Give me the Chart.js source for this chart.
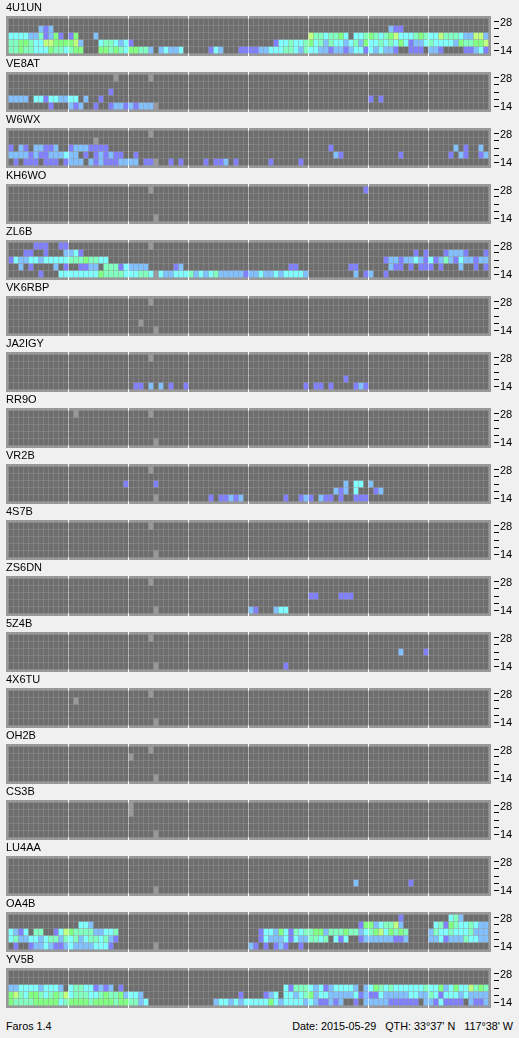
<!DOCTYPE html>
<html>
<head>
<meta charset="utf-8">
<script src="https://cdn.jsdelivr.net/npm/chart.js@4"></script>
<style>
html,body{margin:0;padding:0;background:#f0f0f0;width:519px;height:1038px;overflow:hidden}
canvas{position:absolute;left:0}
.foot{position:absolute;top:1020px;font:10.8px "Liberation Sans",sans-serif;color:#000;white-space:pre;line-height:13px}
</style>
</head>
<body>
<div class="foot" style="left:6px">Faros 1.4</div>
<div class="foot" style="right:6px">Date: 2015-05-29   QTH: 33°37' N   117°38' W</div>
<script>
// Each station: five rows (28 m at top ... 14 m at bottom), eight 12-slot groups of 15-minute cells.
// Digit = signal level (0 none, 1..6 rising), x = no data.
const E = "000000000000";
const bandTicks = ["14","","","","28"];
const levelColors = ["#6e6e6e","#8080ff","#80c0ff","#80ffff","#80ffc0","#80ff80","#c0ff80"];
const noDataColor = "#999999";
const GX0 = "0000x0000000", GX4 = "00000x000000";

const d4U1UN = [
 [E,E,E,E,E,E,E,E],
 ["000000212000",E,E,E,E,E,"000021100000",E],
 ["333322412510","150002000000",E,E,E,"644344530334","543456333454","336444322662"],
 ["445543366555","562000344323","100000000000",E,"000001334334","534243323425","334343531223","433332544556"],
 ["445443335443","455000554543","554420232230","000013200011","112233344324","332212212331","323221001110","221000011231"]];
const dVE8AT = [
 [E,"000000000x00",GX0,E,E,E,E,E],
 [E,E,E,E,E,E,E,E],
 [E,"000000001000",E,E,E,E,E,E],
 ["222203313322","330200100000",E,E,E,E,"101000000000",E],
 ["000000001000","212001001221","21222x000000",E,E,E,E,E]];
const dW6WX = [
 [E,E,GX0,E,E,E,E,E],
 [E,"00000x000000",E,E,E,E,E,E],
 ["102102211200","122211110000",E,E,E,"000010000000",E,"000002010020"],
 ["222212112223","220101212110","010000000000",E,E,"000002100000","000000100000","000010210012"],
 ["010111011101","222021211122","22011x001010","000101120100","000010000010",E,E,E]];
const dKH6WO = [
 [E,E,GX0,E,E,"000000000001",E,E],
 [E,E,E,E,E,E,E,E],[E,E,E,E,E,E,E,E],[E,E,E,E,E,E,E,E],
 [E,E,GX4,E,E,E,E,E]];
const dZL6B = [
 ["000001110011",E,GX0,E,E,E,E,E],
 ["000110010002","231000000000",E,E,E,E,"000000000101","000122210001"],
 ["132233233333","444544330000",E,E,E,E,"000122122321","312421322122"],
 ["002010000201","001122044413","222200000120",E,"000000001100","000000001100","000021101011","101000200101"],
 ["000000100033","333333544443","33443x322333","423234222221","223223233332","000000000201","200100000000",E]];
const dVK6RBP = [
 [E,E,GX0,E,E,E,E,E],[E,E,E,E,E,E,E,E],[E,E,E,E,E,E,E,E],
 [E,E,"00x000000000",E,E,E,E,E],
 [E,E,GX4,E,E,E,E,E]];
const dJA2IGY = [
 [E,E,GX0,E,E,E,E,E],[E,E,E,E,E,E,E,E],[E,E,E,E,E,E,E,E],
 [E,E,E,E,E,"000000010000",E,E],
 [E,E,"011020201001",E,"000000000001","011010000121",E,E]];
const dRR9O = [
 [E,"0x0000000000",GX0,E,E,E,E,E],[E,E,E,E,E,E,E,E],[E,E,E,E,E,E,E,E],[E,E,E,E,E,E,E,E],
 [E,E,GX4,E,E,E,E,E]];
const dVR2B = [
 [E,E,GX0,E,E,E,E,E],[E,E,E,E,E,E,E,E],
 [E,"000000000001","000001000000",E,E,"000000020330","200000000000",E],
 [E,E,E,E,E,"000002120300","012000000000",E],
 [E,E,GX4,"000010112120","000000010012","102110100111",E,E]];
const d4S7B = [
 [E,E,GX0,E,E,E,E,E],[E,E,E,E,E,E,E,E],[E,E,E,E,E,E,E,E],[E,E,E,E,E,E,E,E],
 [E,E,GX4,E,E,E,E,E]];
const dZS6DN = [
 [E,E,GX0,E,E,E,E,E],[E,E,E,E,E,E,E,E],
 [E,E,E,E,E,"110000111000",E,E],
 [E,E,E,E,E,E,E,E],
 [E,E,GX4,E,"210002330000",E,E,E]];
const d5Z4B = [
 [E,E,GX0,E,E,E,E,E],[E,E,E,E,E,E,E,E],
 [E,E,E,E,E,E,"000000200001",E],
 [E,E,E,E,E,E,E,E],
 [E,E,GX4,E,"000000010000",E,E,E]];
const d4X6TU = [
 [E,E,GX0,E,E,E,E,E],[E,"0x0000000000",E,E,E,E,E,E],[E,E,E,E,E,E,E,E],[E,E,E,E,E,E,E,E],
 [E,E,GX4,E,E,E,E,E]];
const dOH2B = [
 [E,E,GX0,E,E,E,E,E],[E,E,"x00000000000",E,E,E,E,E],[E,E,E,E,E,E,E,E],[E,E,E,E,E,E,E,E],
 [E,E,GX4,E,E,E,E,E]];
const dCS3B = [
 [E,E,"x00000000000",E,E,E,E,E],[E,E,"x00000000000",E,E,E,E,E],[E,E,E,E,E,E,E,E],[E,E,E,E,E,E,E,E],
 [E,E,GX4,E,E,E,E,E]];
const dLU4AA = [
 [E,E,E,E,E,E,E,E],[E,E,E,E,E,E,E,E],[E,E,E,E,E,E,E,E],
 [E,E,E,E,E,"000000000200","000000001000",E],
 [E,E,GX4,E,E,E,E,E]];
const dOA4B = [
 [E,E,E,E,E,E,"000000100000","000034200000"],
 [E,"003320000000",E,E,E,"000000000015","523446200000","034154334322"],
 ["321304400136","544442233400",E,E,"001332531434","455244454423","456354540000","243343334222"],
 ["342233234424","342344342100",E,E,"001322231322","443403130012","222221120000","223122243322"],
 ["010012232112","322223331000",GX4,E,"210101210010",E,E,E]];
const dYV5B = [
 [E,E,E,E,E,E,E,E],[E,E,E,E,E,E,E,E],
 ["223333233320","344331212010",E,E,"000000031444","323123333202","354343333334","335235336454"],
 ["564355434546","344433454452","332000000000","000000000010","000123033234","523322222312","113222223322","431333232222"],
 ["544445555534","555545555455","442300000000","000002332323","333353233332","321121200102","222211111102","213111102112"]];

const stationNames = ["4U1UN","VE8AT","W6WX","KH6WO","ZL6B","VK6RBP","JA2IGY","RR9O","VR2B","4S7B","ZS6DN","5Z4B","4X6TU","OH2B","CS3B","LU4AA","OA4B","YV5B"];
const stationData = [d4U1UN,dVE8AT,dW6WX,dKH6WO,dZL6B,dVK6RBP,dJA2IGY,dRR9O,dVR2B,d4S7B,dZS6DN,d5Z4B,d4X6TU,dOH2B,dCS3B,dLU4AA,dOA4B,dYV5B];

const FONT = {family:'"Liberation Sans",sans-serif', size:11, weight:'normal'};
const panelBg = {id:'panelBg', beforeDraw(c){const a=c.chartArea;c.ctx.save();c.ctx.fillStyle='#999999';c.ctx.fillRect(a.left,a.top,a.right-a.left,a.bottom-a.top);c.ctx.restore();}};

stationNames.forEach((name,p)=>{
  const cv=document.createElement('canvas');
  cv.width=519;cv.height=56;cv.style.top=(p*56)+'px';cv.style.width='519px';cv.style.height='56px';
  document.body.appendChild(cv);
  const datasets=stationData[p].map((groups,r)=>{
    const cells=groups.join('').split('');
    const band=4-r;
    return {
      data:cells.map((c,i)=>({x:i,y:[band-3/7,band+3/7]})),
      backgroundColor:cells.map(c=>c==='x'?noDataColor:levelColors[+c])
    };
  });
  new Chart(cv,{
    type:'bar',
    data:{datasets},
    plugins:[panelBg],
    options:{
      responsive:false,animation:false,devicePixelRatio:1,
      layout:{padding:{left:6,right:0,top:0,bottom:0}},
      datasets:{bar:{grouped:false,barThickness:4,borderWidth:0,borderSkipped:false}},
      plugins:{
        legend:{display:false},tooltip:{enabled:false},
        title:{display:true,text:name,align:'start',color:'#000',
          font:{...FONT,lineHeight:'12px'},padding:{top:2,bottom:2}}
      },
      scales:{
        x:{type:'linear',min:-1,max:96,display:true,offset:false,
          afterBuildTicks(s){s.ticks=[11.5,23.5,35.5,47.5,59.5,71.5,83.5].map(v=>({value:v}));},
          afterFit(s){s.height=0;s.paddingLeft=s.paddingRight=0;},
          ticks:{display:false},border:{display:false},
          grid:{offset:false,color:'#ffffff',lineWidth:1,drawTicks:false,tickLength:0}},
        y:{type:'linear',position:'right',min:-6/7,max:34/7,
          afterBuildTicks(s){s.ticks=[0,1,2,3,4].map(v=>({value:v}));},
          afterFit(s){s.width=28;s.paddingTop=s.paddingBottom=0;},
          ticks:{autoSkip:false,color:'#000',padding:1,labelOffset:1,font:FONT,callback:(v)=>bandTicks[v]},
          border:{display:false},
          grid:{drawOnChartArea:false,drawTicks:true,tickLength:8,tickColor:'#000',tickBorderDash:[0,3,5,100]}}
      }
    }
  });
});
</script>
</body>
</html>
